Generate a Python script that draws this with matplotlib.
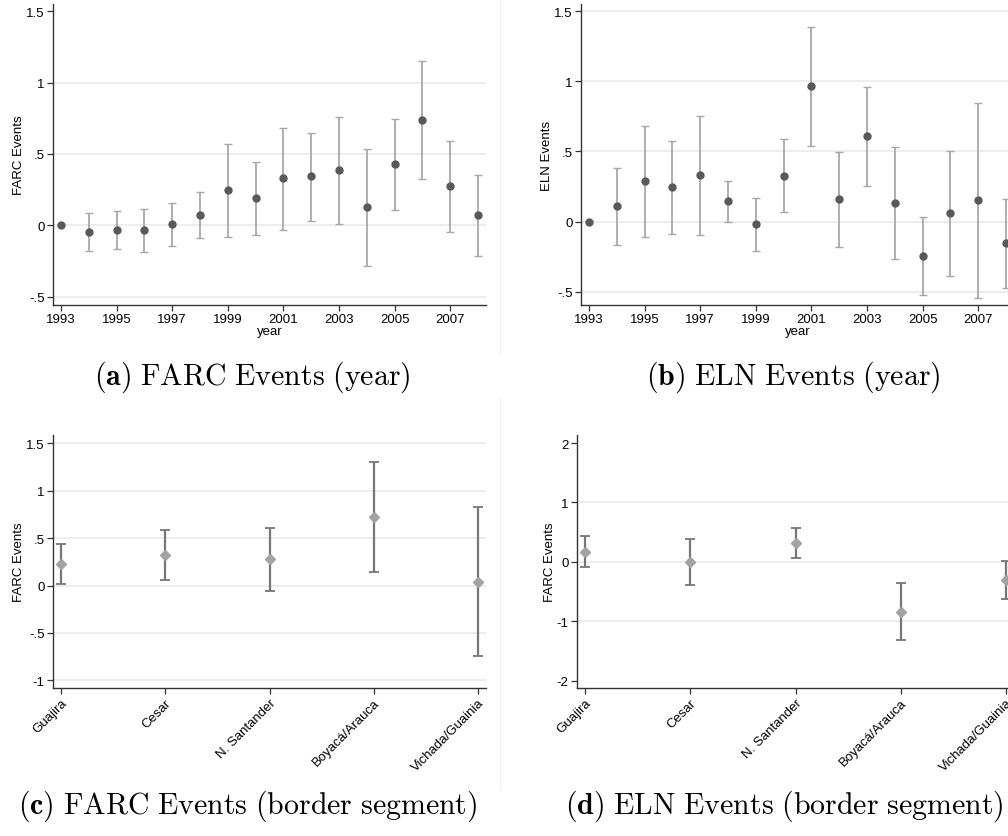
"""Event-study style coefficient plots: FARC / ELN events by year and by border segment."""

import matplotlib

matplotlib.use("Agg")
import matplotlib.pyplot as plt
from matplotlib.lines import Line2D

plt.rcParams["font.family"] = ["Liberation Sans", "DejaVu Sans"]
plt.rcParams["mathtext.fontset"] = "cm"

# ---- data -------------------------------------------------------------
years = list(range(1993, 2009))

farc_year = [0.0, -0.044, -0.030, -0.033, 0.007, 0.070, 0.245, 0.191,
             0.329, 0.343, 0.385, 0.126, 0.427, 0.739, 0.275, 0.070]
farc_year_hi = [0.0, 0.089, 0.100, 0.112, 0.154, 0.231, 0.569, 0.443,
                0.685, 0.648, 0.760, 0.536, 0.748, 1.152, 0.592, 0.352]
farc_year_lo = [0.0, -0.180, -0.163, -0.184, -0.140, -0.089, -0.082, -0.065,
                -0.030, 0.033, 0.007, -0.282, 0.105, 0.326, -0.044, -0.210]

eln_year = [0.0, 0.109, 0.290, 0.245, 0.330, 0.145, -0.019, 0.328,
            0.964, 0.159, 0.610, 0.133, -0.242, 0.059, 0.152, -0.154]
eln_year_hi = [0.0, 0.380, 0.682, 0.577, 0.750, 0.290, 0.169, 0.587,
               1.387, 0.496, 0.962, 0.534, 0.033, 0.504, 0.846, 0.159]
eln_year_lo = [0.0, -0.166, -0.109, -0.088, -0.093, 0.0, -0.207, 0.071,
               0.539, -0.180, 0.257, -0.266, -0.523, -0.387, -0.542, -0.470]

segments = ["Guajira", "Cesar", "N. Santander", "Boyacá/Arauca", "Vichada/Guainia"]

farc_seg = [0.225, 0.324, 0.278, 0.722, 0.039]
farc_seg_hi = [0.433, 0.585, 0.609, 1.306, 0.827]
farc_seg_lo = [0.018, 0.060, -0.060, 0.141, -0.746]

eln_seg = [0.163, 0.0, 0.320, -0.837, -0.303]
eln_seg_hi = [0.427, 0.388, 0.573, -0.354, 0.022]
eln_seg_lo = [-0.084, -0.388, 0.067, -1.309, -0.629]

W, H = 1008, 837
fig = plt.figure(figsize=(W / 100, H / 100), dpi=100)


def px_axes(left, top, right, bottom):
    return fig.add_axes([left / W, 1 - bottom / H, (right - left) / W, (bottom - top) / H])


def style(ax, yticks, ylabels, grid_at, ylabel):
    for s in ("top", "right"):
        ax.spines[s].set_visible(False)
    for s in ("left", "bottom"):
        ax.spines[s].set_color("#333333")
        ax.spines[s].set_linewidth(1.0)
    ax.set_yticks(yticks, ylabels)
    for g in grid_at:
        ax.axhline(g, color="#e8e8e8", lw=1.1, zorder=0)
    ax.tick_params(axis="both", length=4, width=0.9, color="#333333", labelsize=9.5, pad=2)
    ax.set_ylabel(ylabel, fontsize=9.5, labelpad=0.5)


def year_panel(ax, est, lo, hi, ylim, yticks, ylabels, grid_at, ylabel):
    lo_err = [e - l for e, l in zip(est, lo)]
    hi_err = [h - e for e, h in zip(est, hi)]
    ax.errorbar(years[1:], est[1:], yerr=[lo_err[1:], hi_err[1:]], fmt="none",
                ecolor="#a8a8a8", elinewidth=1.3, capsize=3.2, capthick=1.0, zorder=2)
    ax.plot(years, est, "o", color="#595959", ms=5, zorder=3)
    ax.set_xlim(1992.71, 2008.29)
    ax.set_ylim(*ylim)
    ax.set_xticks(years[::2], [str(y) for y in years[::2]])
    style(ax, yticks, ylabels, grid_at, ylabel)
    ax.set_xlabel("year", fontsize=9.5, labelpad=0)


def seg_panel(ax, est, lo, hi, ylim, yticks, ylabels, grid_at, ylabel):
    pos = list(range(1, len(segments) + 1))
    lo_err = [e - l for e, l in zip(est, lo)]
    hi_err = [h - e for e, h in zip(est, hi)]
    ax.errorbar(pos, est, yerr=[lo_err, hi_err], fmt="none",
                ecolor="#767676", elinewidth=1.6, capsize=3.6, capthick=1.3, zorder=2)
    ax.plot(pos, est, "D", color="#a3a3a3", ms=5, zorder=3)
    ax.set_xlim(0.923, 5.077)
    ax.set_ylim(*ylim)
    ax.set_xticks(pos)
    ax.set_xticklabels(segments, rotation=45, ha="right", va="top", rotation_mode="anchor")
    style(ax, yticks, ylabels, grid_at, ylabel)


ax_a = px_axes(53, 5, 486, 306)
year_panel(ax_a, farc_year, farc_year_lo, farc_year_hi, (-0.556, 1.549),
           [-0.5, 0, 0.5, 1, 1.5], ["-.5", "0", ".5", "1", "1.5"],
           [-0.5, 0, 0.5, 1], "FARC Events")

ax_b = px_axes(581, 5, 1014, 306)
year_panel(ax_b, eln_year, eln_year_lo, eln_year_hi, (-0.593, 1.55),
           [-0.5, 0, 0.5, 1, 1.5], ["-.5", "0", ".5", "1", "1.5"],
           [-0.5, 0, 0.5, 1, 1.5], "ELN Events")

ax_c = px_axes(53, 436, 486, 689)
seg_panel(ax_c, farc_seg, farc_seg_lo, farc_seg_hi, (-1.08, 1.587),
          [-1, -0.5, 0, 0.5, 1, 1.5], ["-1", "-.5", "0", ".5", "1", "1.5"],
          [-1, -0.5, 0, 0.5, 1, 1.5], "FARC Events")

ax_d = px_axes(577, 436, 1014, 689)
seg_panel(ax_d, eln_seg, eln_seg_lo, eln_seg_hi, (-2.123, 2.135),
          [-2, -1, 0, 1, 2], ["-2", "-1", "0", "1", "2"],
          [-1, 0, 1], "FARC Events")

# faint edges between the two columns of sub-images
fig.add_artist(Line2D([500 / W, 500 / W], [1 - 355 / H, 1.0], color="#efefef", lw=0.8))
fig.add_artist(Line2D([500 / W, 500 / W], [1 - 790 / H, 1 - 400 / H], color="#efefef", lw=0.8))

# LaTeX-style sub-captions
captions = [
    (252, 377, r"$\mathbf{(a)}\ \mathrm{FARC\ Events\ (year)}$"),
    (793, 377, r"$\mathbf{(b)}\ \mathrm{ELN\ Events\ (year)}$"),
    (248, 806, r"$\mathbf{(c)}\ \mathrm{FARC\ Events\ (border\ segment)}$"),
    (784, 806, r"$\mathbf{(d)}\ \mathrm{ELN\ Events\ (border\ segment)}$"),
]
for x, y, txt in captions:
    fig.text(x / W, 1 - y / H, txt, ha="center", va="center", fontsize=21.5)

fig.savefig("out.png", dpi=100)
